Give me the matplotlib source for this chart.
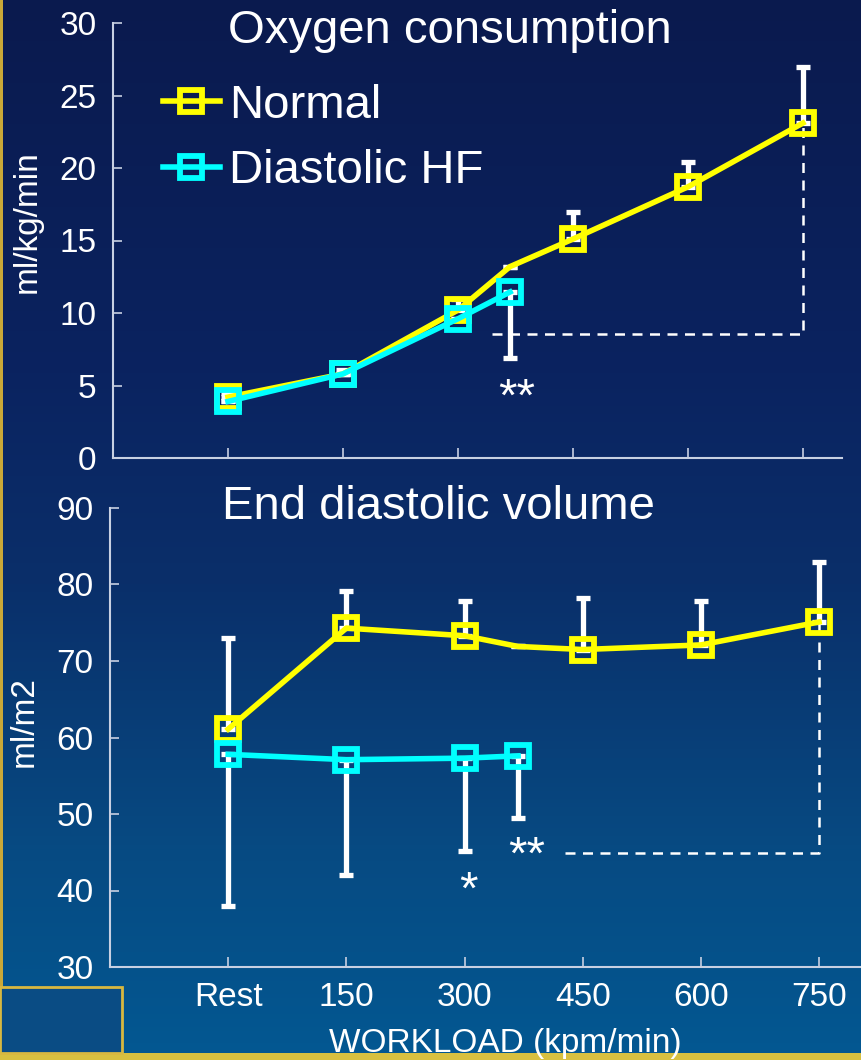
import numpy as np
import matplotlib
matplotlib.use("Agg")
import matplotlib.pyplot as plt
from matplotlib.colors import LinearSegmentedColormap
from matplotlib.patches import Rectangle

plt.rcParams['font.family'] = ['Liberation Sans', 'DejaVu Sans']

# ---------------- data ----------------
categories = ["Rest", "150", "300", "450", "600", "750"]
tick_workload = [0, 150, 300, 450, 600, 750]

# Oxygen consumption (ml/kg/min)
vo2_normal_x = [0, 150, 300, 368, 450, 600, 750]
vo2_normal_y = [4.2, 5.8, 10.2, 13.2, 15.1, 18.7, 23.1]
vo2_normal_up = [0.3, 0.3, 0.8, np.nan, 1.9, 1.7, 3.9]
vo2_normal_marked = [0, 1, 2, 4, 5, 6]

vo2_hf_x = [0, 150, 300, 368]
vo2_hf_y = [3.9, 5.8, 9.6, 11.45]
vo2_hf_down = [0.0, 0.0, 0.0, 4.55]

# End diastolic volume (ml/m2)
edv_normal_x = [0, 150, 300, 368, 450, 600, 750]
edv_normal_y = [61.1, 74.3, 73.3, 71.9, 71.5, 72.1, 75.1]
edv_normal_up = [11.9, 4.8, 4.6, np.nan, 6.7, 5.8, 7.8]
edv_normal_marked = [0, 1, 2, 4, 5, 6]

edv_hf_x = [0, 150, 300, 368]
edv_hf_y = [57.8, 57.1, 57.3, 57.6]
edv_hf_down = [19.8, 15.1, 12.2, 8.1]

# significance brackets
vo2_bracket_x = [345, 750, 750]
vo2_bracket_y = [8.55, 8.55, 23.1]
edv_bracket_x = [427, 750, 750]
edv_bracket_y = [44.9, 44.9, 75.1]

YELLOW = "#ffff00"
CYAN = "#00ffff"
SPINE = "#c8d0e2"

W, H = 862, 1060
fig = plt.figure(figsize=(W / 100, H / 100), dpi=100)

# ---------------- background ----------------
bg = fig.add_axes([0, 0, 1, 1], zorder=-10)
cmap = LinearSegmentedColormap.from_list(
    "bg", [(0.0, "#0a1a4e"), (0.35, "#0b2360"), (0.55, "#0a2f6a"),
           (0.8, "#074a82"), (1.0, "#035892")])
grad = np.linspace(0, 1, 256).reshape(-1, 1)
bg.imshow(grad, aspect="auto", cmap=cmap, extent=[0, 1, 0, 1], origin="upper")
bg.set_xlim(0, 1)
bg.set_ylim(0, 1)
bg.axis("off")
# gold frame edges and logo box
bg.add_patch(Rectangle((0, 0), 3 / W, 1, color="#c9a838", lw=0))
bg.add_patch(Rectangle((0, 0), 1, 7 / H, color="#d8c040", lw=0))
bg.add_patch(Rectangle((0, 7 / H), 122 / W, 66 / H, facecolor="#0a4c84",
                       edgecolor="#d8b840", lw=2))


def px(x, y):
    return x / W, 1 - y / H


def style_axes(ax):
    ax.set_facecolor("none")
    for s in ["top", "right"]:
        ax.spines[s].set_visible(False)
    for s in ["left", "bottom"]:
        ax.spines[s].set_color(SPINE)
        ax.spines[s].set_linewidth(1.5)
    ax.tick_params(axis="both", direction="in", colors=SPINE, labelcolor="white",
                   labelsize=24, width=1.2)
    ax.tick_params(axis="x", length=7, pad=11)
    ax.tick_params(axis="y", length=6.5, pad=12)


eb_kw = dict(fmt="none", ecolor="white", elinewidth=3.8, capsize=5, capthick=3.8, zorder=2)
line_kw = dict(lw=4.0, marker="s", ms=15.5, mfc="none", mew=4.2, zorder=3)

# ---------------- top panel ----------------
ax1 = fig.add_axes([113 / W, 1 - 458 / H, (842 - 113) / W, (458 - 23) / H])
style_axes(ax1)
up = np.nan_to_num(vo2_normal_up)
ax1.errorbar(vo2_normal_x, vo2_normal_y, yerr=[np.zeros(len(up)), up], **eb_kw)
ax1.errorbar(vo2_hf_x, vo2_hf_y, yerr=[vo2_hf_down, np.zeros(len(vo2_hf_down))], **eb_kw)
ax1.plot(vo2_normal_x, vo2_normal_y, color=YELLOW, markevery=vo2_normal_marked,
         label="Normal", **line_kw)
ax1.plot(vo2_hf_x, vo2_hf_y, color=CYAN, label="Diastolic HF", **line_kw)
ax1.plot(vo2_bracket_x, vo2_bracket_y, color="white", lw=1.8, ls=(0, (4, 3)), zorder=1)
ax1.text(377, 5.6, "**", color="white", fontsize=34, ha="center", va="top")
ax1.set_xlim(-150, 801)
ax1.set_ylim(0, 30)
ax1.set_yticks(range(0, 31, 5))
ax1.set_xticks(tick_workload)
ax1.set_xticklabels([])
leg = ax1.legend(loc="upper left", bbox_to_anchor=px(163, 84), bbox_transform=fig.transFigure,
                 frameon=False, fontsize=34, handlelength=1.2, handletextpad=0.2,
                 labelspacing=0.45, borderpad=0, borderaxespad=0, numpoints=1)
for t in leg.get_texts():
    t.set_color("white")

fig.text(*px(228, 43), "Oxygen consumption", color="white", fontsize=34,
         ha="left", va="baseline")
fig.text(*px(27, 222), "ml/kg/min", color="white", fontsize=24, rotation=90,
         ha="center", va="center")

# ---------------- bottom panel ----------------
ax2 = fig.add_axes([110 / W, 1 - 967 / H, (860 - 110) / W, (967 - 508) / H])
style_axes(ax2)
up = np.nan_to_num(edv_normal_up)
ax2.errorbar(edv_normal_x, edv_normal_y, yerr=[np.zeros(len(up)), up], **eb_kw)
ax2.errorbar(edv_hf_x, edv_hf_y, yerr=[edv_hf_down, np.zeros(len(edv_hf_down))], **eb_kw)
ax2.plot(edv_normal_x, edv_normal_y, color=YELLOW, markevery=edv_normal_marked, **line_kw)
ax2.plot(edv_hf_x, edv_hf_y, color=CYAN, **line_kw)
ax2.plot(edv_bracket_x, edv_bracket_y, color="white", lw=1.8, ls=(0, (4, 3)), zorder=1)
ax2.text(379, 47.3, "**", color="white", fontsize=34, ha="center", va="top")
ax2.text(305, 42.7, "*", color="white", fontsize=34, ha="center", va="top")
ax2.set_xlim(-150, 802)
ax2.set_ylim(30, 90)
ax2.set_yticks(range(30, 91, 10))
ax2.set_xticks(tick_workload)
ax2.set_xticklabels(categories)

fig.text(*px(222, 519), "End diastolic volume", color="white", fontsize=34,
         ha="left", va="baseline")
fig.text(*px(24, 722), "ml/m2", color="white", fontsize=24, rotation=90,
         ha="center", va="center")
fig.text(*px(505, 1052), "WORKLOAD (kpm/min)", color="white", fontsize=24,
         ha="center", va="baseline")

fig.savefig("out.png", dpi=100)
